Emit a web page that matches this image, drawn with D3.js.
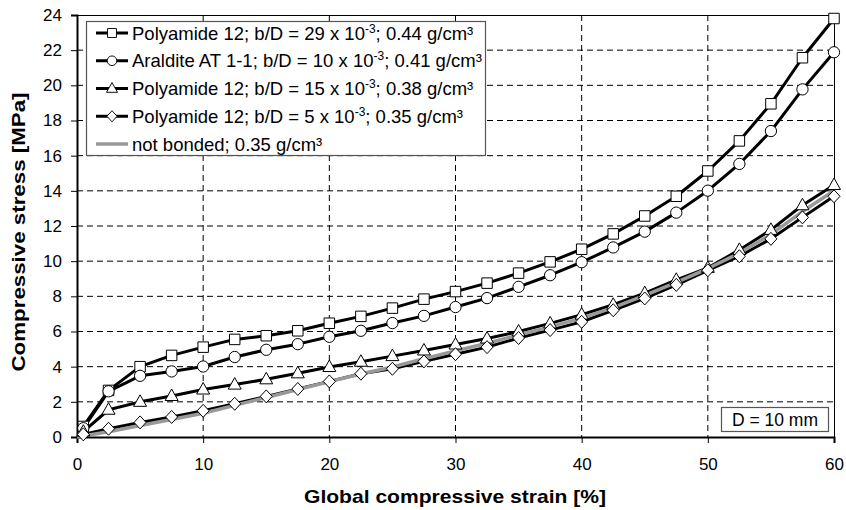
<!DOCTYPE html>
<html><head><meta charset="utf-8">
<script src="https://cdn.jsdelivr.net/npm/d3@7"></script>
<style>body{margin:0;background:#fff}svg{display:block;font-family:"Liberation Sans",Arial,sans-serif}</style>
</head><body><svg id="c" width="846" height="510"></svg>
<script>
const strain = [0.5,2.5,5,7.5,10,12.5,15,17.5,20,22.5,25,27.5,30,32.5,35,37.5,40,42.5,45,47.5,50,52.5,55,57.5,60];
const pa29 = [0.6,2.65,4.0,4.64,5.11,5.55,5.76,6.04,6.47,6.86,7.33,7.84,8.27,8.75,9.32,9.96,10.68,11.55,12.57,13.69,15.13,16.84,18.95,21.57,23.8];
const ar10 = [0.5,2.6,3.48,3.73,4.01,4.55,4.96,5.28,5.7,6.04,6.48,6.89,7.39,7.9,8.54,9.2,9.94,10.78,11.68,12.76,14.01,15.53,17.4,19.77,21.88];
const pa15 = [0.3,1.55,2.0,2.33,2.7,2.98,3.28,3.62,3.98,4.28,4.6,4.92,5.26,5.6,6.0,6.46,6.96,7.52,8.18,8.94,9.62,10.64,11.78,13.18,14.33];
const pa5  = [0.15,0.47,0.83,1.14,1.49,1.89,2.31,2.73,3.16,3.6,3.88,4.3,4.71,5.11,5.63,6.08,6.55,7.21,7.88,8.65,9.48,10.28,11.27,12.49,13.69];
const nbStrain = [0,2.5,5,7.5,10,12.5,15,17.5,20,22.5,25,27.5,30,32.5,35,37.5,40,42.5,45,47.5,50,52.5,55,57.5,60];
const notBonded = [0,0.3,0.65,1.0,1.35,1.8,2.25,2.7,3.15,3.58,3.98,4.45,4.9,5.33,5.8,6.26,6.76,7.36,8.05,8.8,9.58,10.46,11.52,12.82,14.0];
const xTicks = [0,10,20,30,40,50,60];
const yTicks = [0,2,4,6,8,10,12,14,16,18,20,22,24];
const legendLabels = [
  ["Polyamide 12; b/D = 29 x 10","-3","; 0.44 g/cm³"],
  ["Araldite AT 1-1; b/D = 10 x 10","-3","; 0.41 g/cm³"],
  ["Polyamide 12; b/D = 15 x 10","-3","; 0.38 g/cm³"],
  ["Polyamide 12; b/D = 5 x 10","-3","; 0.35 g/cm³"],
  ["not bonded; 0.35 g/cm³","",""]
];
const markers = ["square","circle","triangle","diamond",null];

const svg = d3.select("#c");
const L=77,R=834,T=15,B=437;
const x = d3.scaleLinear().domain([0,60]).range([L,R]);
const y = d3.scaleLinear().domain([0,24]).range([B,T]);

// grid
const g = svg.append("g");
g.selectAll(".vg").data(xTicks.slice(1,-1)).join("line")
  .attr("x1",d=>x(d)).attr("x2",d=>x(d)).attr("y1",T).attr("y2",B)
  .attr("stroke","#000").attr("stroke-width",1).attr("stroke-dasharray","6,4");
g.selectAll(".hg").data(yTicks.slice(1,-1)).join("line")
  .attr("x1",L).attr("x2",R).attr("y1",d=>y(d)).attr("y2",d=>y(d))
  .attr("stroke","#000").attr("stroke-width",1).attr("stroke-dasharray","6,4");
svg.append("line").attr("x1",L).attr("x2",R).attr("y1",T+0.5).attr("y2",T+0.5).attr("stroke","#000");
svg.append("line").attr("x1",R+0.5).attr("x2",R+0.5).attr("y1",T).attr("y2",B).attr("stroke","#000");

// axes
const xAxis = svg.append("g").attr("transform",`translate(0,${B})`)
  .call(d3.axisBottom(x).tickValues(xTicks).tickSize(6).tickPadding(15).tickFormat(d3.format("d")));
const yAxis = svg.append("g").attr("transform",`translate(${L},0)`)
  .call(d3.axisLeft(y).tickValues(yTicks).tickSize(6).tickPadding(9).tickFormat(d3.format("d")));
[xAxis,yAxis].forEach(a=>{
  a.select(".domain").attr("stroke","#000").attr("stroke-width",2);
  a.selectAll(".tick line").attr("stroke","#000").attr("stroke-width",1);
  a.selectAll(".tick text").attr("font-size",17).attr("font-family","Liberation Sans, Arial, sans-serif").attr("fill","#000");
});

const series = [pa29,ar10,pa15,pa5];
const line = d3.line().x(d=>x(d[0])).y(d=>y(d[1]));
series.forEach(s=>{
  svg.append("path").datum(strain.map((v,i)=>[v,s[i]])).attr("d",line)
    .attr("fill","none").attr("stroke","#000").attr("stroke-width",3).attr("stroke-linejoin","round");
});
svg.append("path").datum(nbStrain.map((v,i)=>[v,notBonded[i]])).attr("d",line)
  .attr("fill","none").attr("stroke","#999").attr("stroke-width",3.5).attr("stroke-linejoin","round");

const sym = {
  square: () => d3.symbol().type(d3.symbolSquare).size(110)(),
  circle: () => d3.symbol().type(d3.symbolCircle).size(100)(),
  triangle: () => "M0,-7L6.5,4.5L-6.5,4.5Z",
  diamond: () => "M0,-6.5L6,0L0,6.5L-6,0Z"
};
series.forEach((s,k)=>{
  svg.append("g").selectAll("path").data(strain.map((v,i)=>[v,s[i]])).join("path")
    .attr("transform",d=>`translate(${x(d[0])},${y(d[1])})`)
    .attr("d",sym[markers[k]]()).attr("fill","#fff").attr("stroke","#000").attr("stroke-width",1);
});

// legend
const lg = svg.append("g");
lg.append("rect").attr("x",86.5).attr("y",21.5).attr("width",399).attr("height",134)
  .attr("fill","#fff").attr("stroke","#555").attr("stroke-width",1.2);
legendLabels.forEach((lab,i)=>{
  const cy = 33 + i*27.75;
  lg.append("line").attr("x1",96).attr("x2",128).attr("y1",cy).attr("y2",cy)
    .attr("stroke",i<4?"#000":"#999").attr("stroke-width",i<4?3:3.5);
  if(markers[i]) lg.append("path").attr("transform",`translate(112,${cy}) scale(0.85)`)
    .attr("d",sym[markers[i]]()).attr("fill","#fff").attr("stroke","#000").attr("stroke-width",1.1);
  const t = lg.append("text").attr("x",132).attr("y",cy+6.5).attr("font-size",18.5).attr("fill","#000");
  t.append("tspan").text(lab[0]);
  if(lab[1]) t.append("tspan").attr("font-size",12).attr("dy",-7).text(lab[1]);
  if(lab[2]) t.append("tspan").attr("dy",lab[1]?7:0).text(lab[2]);
});

// D box
svg.append("rect").attr("x",721.5).attr("y",407.5).attr("width",107).attr("height",24)
  .attr("fill","#fff").attr("stroke","#555").attr("stroke-width",1.2);
svg.append("text").attr("x",775).attr("y",426).attr("text-anchor","middle").attr("font-size",17.5).text("D = 10 mm");

// axis titles
svg.append("text").attr("x",455).attr("y",503).attr("text-anchor","middle")
  .attr("font-size",19).attr("font-weight","bold")
  .attr("textLength",302).attr("lengthAdjust","spacingAndGlyphs").text("Global compressive strain [%]");
svg.append("text").attr("transform","translate(25,232) rotate(-90)").attr("text-anchor","middle")
  .attr("font-size",19).attr("font-weight","bold")
  .attr("textLength",279).attr("lengthAdjust","spacingAndGlyphs").text("Compressive stress [MPa]");
</script></body></html>
